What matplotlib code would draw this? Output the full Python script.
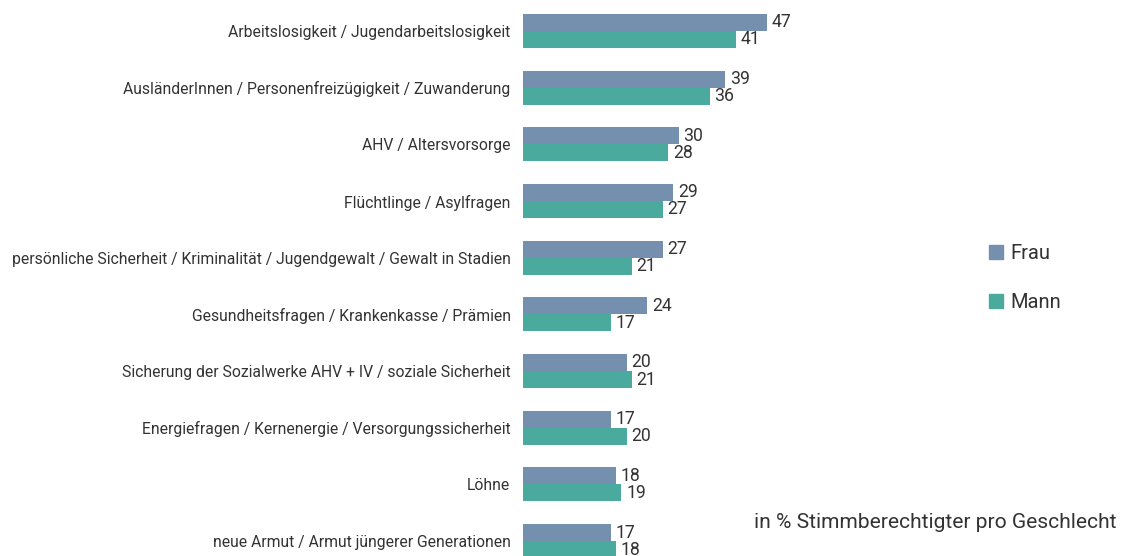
import matplotlib
matplotlib.use("Agg")
import matplotlib.pyplot as plt
import numpy as np
from matplotlib.patches import Patch

plt.rcParams['font.family'] = ['Roboto', 'DejaVu Sans']

themen = [
    "Arbeitslosigkeit / Jugendarbeitslosigkeit",
    "AusländerInnen / Personenfreizügigkeit / Zuwanderung",
    "AHV / Altersvorsorge",
    "Flüchtlinge / Asylfragen",
    "persönliche Sicherheit / Kriminalität / Jugendgewalt / Gewalt in Stadien",
    "Gesundheitsfragen / Krankenkasse / Prämien",
    "Sicherung der Sozialwerke AHV + IV / soziale Sicherheit",
    "Energiefragen / Kernenergie / Versorgungssicherheit",
    "Löhne",
    "neue Armut / Armut jüngerer Generationen",
]
frau = [47, 39, 30, 29, 27, 24, 20, 17, 18, 17]
mann = [41, 36, 28, 27, 21, 17, 21, 20, 19, 18]

c_frau = "#758FAF"
c_mann = "#4AAA9E"
txt = "#333333"

fig = plt.figure(figsize=(11.21, 5.56), dpi=100)
# axes: left edge at bar start, full height
ax = fig.add_axes([523 / 1121, 0, 311 / 1121, 1])

y = np.arange(len(themen))
h = 0.3
ax.barh(y - h / 2, frau, height=h, color=c_frau)
ax.barh(y + h / 2, mann, height=h, color=c_mann)

for i in range(len(themen)):
    ax.text(frau[i] + 0.9, y[i] - h / 2, str(frau[i]), va="center", ha="left",
            fontsize=12.7, color=txt)
    ax.text(mann[i] + 0.9, y[i] + h / 2, str(mann[i]), va="center", ha="left",
            fontsize=12.7, color=txt)

ax.set_xlim(0, 60)
ax.set_ylim(9 + 15 / 56.67, -31 / 56.67)
ax.set_yticks(y)
ax.set_yticklabels(themen, fontsize=11.3, color=txt)
ax.tick_params(axis="y", length=0, pad=9)
ax.set_xticks([])
for s in ax.spines.values():
    s.set_visible(False)

handles = [Patch(color=c_frau, label="Frau"), Patch(color=c_mann, label="Mann")]
fig.legend(handles=handles, loc="center left", bbox_to_anchor=(989 / 1121, 1 - 278 / 556),
           frameon=False, fontsize=14.5, handlelength=0.7, handleheight=0.7,
           handletextpad=0.35, labelspacing=1.45, borderaxespad=0, borderpad=0,
           labelcolor=txt)

fig.text(1116 / 1121, 1 - 522 / 556, "in % Stimmberechtigter pro Geschlecht",
         ha="right", va="center", fontsize=15.1, color=txt)

fig.savefig("out.png", dpi=100)
